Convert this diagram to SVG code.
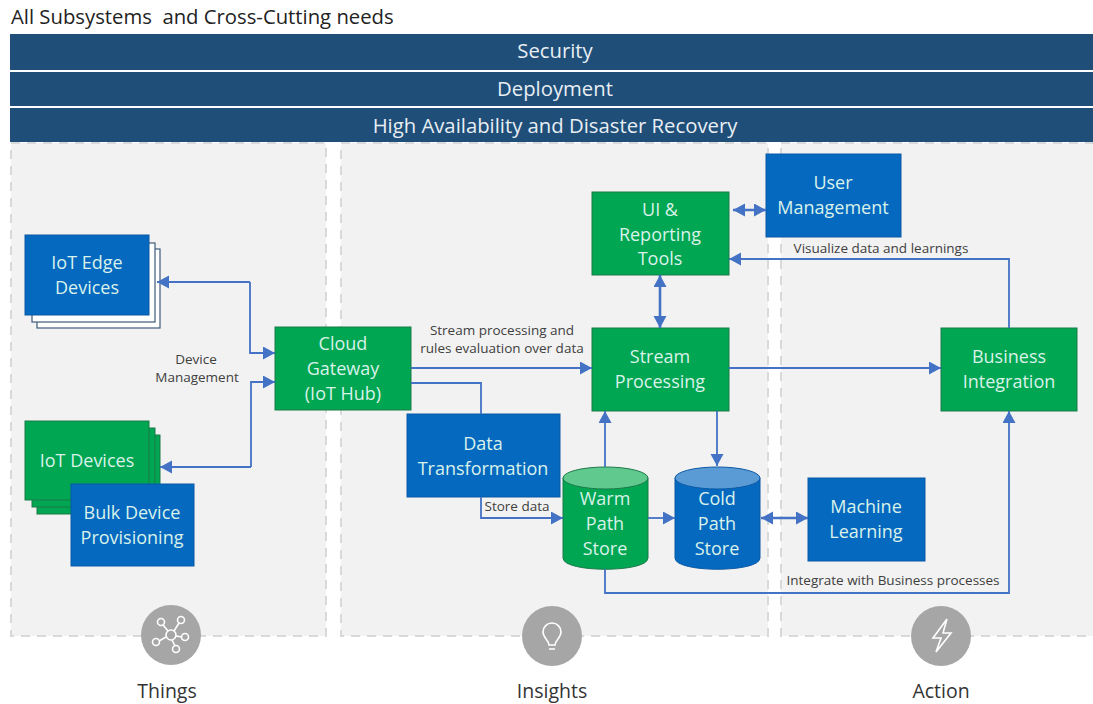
<svg xmlns="http://www.w3.org/2000/svg" width="1093" height="704" viewBox="0 0 1093 704">
<style>
text{font-family:"Open Sans","Noto Sans","Liberation Sans",sans-serif}
.bar{fill:#1f4e79}
.bart{fill:#e8eef4;font-size:20.3px;text-anchor:middle}
.panel{fill:#f2f2f2;stroke:#d9d9d9;stroke-width:2;stroke-dasharray:9 7}
.g{fill:#00a651;stroke:#1d7a4b;stroke-width:1}
.b{fill:#0569c0;stroke:#0b5aa5;stroke-width:1}
.w{fill:#fff;stroke:#3c5a78;stroke-width:1.2}
.nt{fill:#d9f2ea;font-size:18px;text-anchor:middle}
.lb{fill:#404040;font-size:13.500px;text-anchor:middle}
.cap{fill:#333;font-size:19.500px;text-anchor:middle}
.c{fill:none;stroke:#4472c4;stroke-width:1.8}
.d{stroke-width:2.6}
.ic{fill:none;stroke:#fff;stroke-width:1.6}
.circ{fill:#a6a6a6}
</style>
<defs>
<marker id="a" markerUnits="userSpaceOnUse" markerWidth="13" markerHeight="14" refX="12" refY="6.500" orient="auto-start-reverse"><path d="M0 0L12 6.500L0 13Z" fill="#4472c4"/></marker>
</defs>
<rect width="1093" height="704" fill="#fff"/>
<text x="11" y="24" fill="#222" font-size="20.300" xml:space="preserve">All Subsystems  and Cross-Cutting needs</text>
<g id="panels">
<rect class="panel" x="11" y="143" width="315" height="493"/>
<rect class="panel" x="341" y="143" width="427" height="493"/>
<rect class="panel" x="781" y="143" width="330" height="493"/>
</g>
<g id="security"><rect class="bar" x="10" y="34" width="1083" height="36"/><text class="bart" x="555" y="58">Security</text></g>
<g id="deployment"><rect class="bar" x="10" y="72" width="1083" height="34"/><text class="bart" x="555" y="96">Deployment</text></g>
<g id="ha"><rect class="bar" x="10" y="108" width="1083" height="34"/><text class="bart" x="555" y="133">High Availability and Disaster Recovery</text></g>
<g id="iot-edge">
<rect class="w" x="37" y="249" width="123" height="79"/>
<rect class="w" x="32" y="243" width="123" height="79"/>
<rect class="b" x="25" y="235" width="124" height="80"/>
<text class="nt" x="87" y="269">IoT Edge</text><text class="nt" x="87" y="294">Devices</text>
</g>
<g id="iot-devices">
<rect class="g" x="37" y="435" width="123" height="79"/>
<rect class="g" x="32" y="428" width="123" height="79"/>
<rect class="g" x="25" y="421" width="124" height="79"/>
<text class="nt" x="87" y="467">IoT Devices</text>
</g>
<g id="bulk"><rect class="b" x="71" y="484" width="123" height="82"/><text class="nt" x="132" y="519">Bulk Device</text><text class="nt" x="132" y="544">Provisioning</text></g>
<g id="cloud-gateway"><rect class="g" x="275" y="327" width="136" height="83"/><text class="nt" x="343" y="350">Cloud</text><text class="nt" x="343" y="375">Gateway</text><text class="nt" x="343" y="400">(IoT Hub)</text></g>
<g id="data-transformation"><rect class="b" x="407" y="414" width="153" height="83"/><text class="nt" x="483" y="450">Data</text><text class="nt" x="483" y="475">Transformation</text></g>
<g id="ui"><rect class="g" x="592" y="192" width="137" height="83"/><text class="nt" x="660" y="216">UI &amp;</text><text class="nt" x="660" y="241">Reporting</text><text class="nt" x="660" y="265">Tools</text></g>
<g id="user-management"><rect class="b" x="766" y="154" width="135" height="83"/><text class="nt" x="833" y="189">User</text><text class="nt" x="833" y="214">Management</text></g>
<g id="stream"><rect class="g" x="592" y="328" width="137" height="83"/><text class="nt" x="660" y="363">Stream</text><text class="nt" x="660" y="388">Processing</text></g>
<g id="business"><rect class="g" x="941" y="328" width="136" height="83"/><text class="nt" x="1009" y="363">Business</text><text class="nt" x="1009" y="388">Integration</text></g>
<g id="ml"><rect class="b" x="808" y="478" width="117" height="83"/><text class="nt" x="866" y="513">Machine</text><text class="nt" x="866" y="538">Learning</text></g>
<g id="warm">
<path class="g" d="M563 478V558C563 573 648 573 648 558V478Z"/>
<ellipse cx="605.500" cy="478" rx="42.500" ry="11" fill="#5fc98e" stroke="#1d7a4b"/>
<text class="nt" x="605" y="505">Warm</text><text class="nt" x="605" y="530">Path</text><text class="nt" x="605" y="555">Store</text>
</g>
<g id="cold">
<path class="b" d="M675 478V558C675 573 760 573 760 558V478Z"/>
<ellipse cx="717.500" cy="478" rx="42.500" ry="11" fill="#5b9bd5" stroke="#0b5aa5"/>
<text class="nt" x="717" y="505">Cold</text><text class="nt" x="717" y="530">Path</text><text class="nt" x="717" y="555">Store</text>
</g>
<g id="connectors">
<path class="c" d="M250 282H157" marker-end="url(#a)"/>
<path class="c" d="M250 282V353H275" marker-end="url(#a)"/>
<path class="c" d="M251 467H160" marker-end="url(#a)"/>
<path class="c" d="M251 467V382H275" marker-end="url(#a)"/>
<path class="c" d="M411 368H592" marker-end="url(#a)"/>
<path class="c" d="M411 383H481V414"/>
<path class="c" d="M481 497V518H563" marker-end="url(#a)"/>
<path class="c" d="M605 467V411" marker-end="url(#a)"/>
<path class="c" d="M717 411V466" marker-end="url(#a)"/>
<path class="c" d="M648 518H675" marker-end="url(#a)"/>
<path class="c d" d="M761 518H808" marker-start="url(#a)" marker-end="url(#a)"/>
<path class="c" d="M729 368H941" marker-end="url(#a)"/>
<path class="c" d="M1009 328V259H729" marker-end="url(#a)"/>
<path class="c d" d="M733 210H766" marker-start="url(#a)" marker-end="url(#a)"/>
<path class="c d" d="M660 275V328" marker-start="url(#a)" marker-end="url(#a)"/>
<path class="c" d="M605 569V593H1009V411" marker-end="url(#a)"/>
</g>
<g id="labels">
<text class="lb" x="196" y="364">Device</text><text class="lb" x="197" y="382">Management</text>
<text class="lb" x="502" y="335">Stream processing and</text><text class="lb" x="502" y="353">rules evaluation over data</text>
<text class="lb" x="517" y="511">Store data</text>
<text class="lb" x="881" y="253">Visualize data and learnings</text>
<text class="lb" x="893" y="585">Integrate with Business processes</text>
</g>
<g id="things">
<circle class="circ" cx="171" cy="635" r="30"/>
<g class="ic"><circle cx="171" cy="635" r="5"/><circle cx="161" cy="622" r="3.500"/><circle cx="181" cy="620" r="3.500"/><circle cx="156" cy="642" r="3.500"/><circle cx="185" cy="637" r="3.500"/><circle cx="176" cy="649" r="3.500"/><path d="M168 631L163 625M174 631L179 623M166 637L159 641M176 636L182 637M172 640L175 646"/></g>
<text class="cap" x="167" y="698">Things</text>
</g>
<g id="insights">
<circle class="circ" cx="552" cy="636" r="30"/>
<path class="ic" d="M549 645C549 640 543 638 543 632A9 9 0 0 1 561 632C561 638 555 640 555 645ZM549 649H555"/>
<text class="cap" x="552" y="698">Insights</text>
</g>
<g id="action">
<circle class="circ" cx="941" cy="636" r="30"/>
<path class="ic" d="M947 619L933 638H941L936 652L951 633H943Z"/>
<text class="cap" x="941" y="698">Action</text>
</g>
</svg>
